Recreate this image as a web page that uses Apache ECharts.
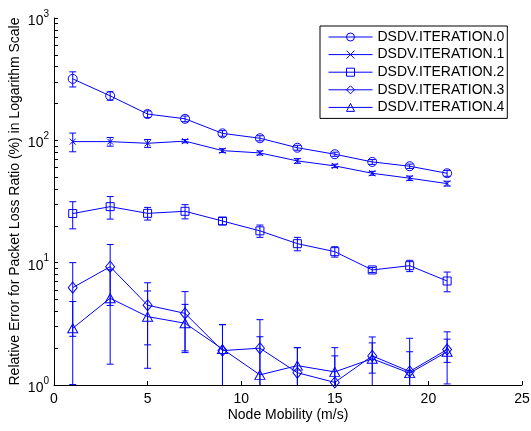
<!DOCTYPE html>
<html>
<head>
<meta charset="utf-8">
<script src="https://cdn.jsdelivr.net/npm/echarts@6/dist/echarts.min.js"></script>
<style>
  html, body { margin: 0; padding: 0; background: #fff; }
  #chart { width: 531px; height: 431px; }
</style>
</head>
<body>
<div id="chart"></div>
<script>
// node mobility (m/s)
const mobility = [1, 3, 5, 7, 9, 11, 13, 15, 17, 19, 21]

// relative error (%) and its error bar half-length, per iteration
const iter0 = [318, 231, 164, 150, 114, 104, 87, 77, 66.6, 61.4, 53.8]
const err0 = [45, 18, 10, 8, 6, 5, 4, 3, 3, 2.5, 3]
const iter1 = [97.6, 97.6, 94.6, 98.5, 82.4, 78.9, 67.9, 61.8, 53.8, 49, 44.3]
const err1 = [17, 8, 7, 3, 3, 3, 3, 2, 2, 2, 2]
const iter2 = [25.2, 28.7, 25.3, 26.3, 21.9, 18.2, 14.3, 12.3, 8.72, 9.45, 7.08]
const err2 = [6.3, 6, 3, 3.5, 1.5, 2.1, 1.8, 1.2, 0.4, 1, 1.3]
const iter3 = [6.25, 9.27, 4.49, 3.85, 1.91, 2.0, 1.26, 1.05, 1.73, 1.29, 1.95]
const err3 = [3.75, 4.8, 2.36, 1.95, 1.2, 1.42, 0.76, 0.97, 0.48, 1.12, 0.42]
const iter4 = [2.91, 5.12, 3.62, 3.2, 1.97, 1.21, 1.44, 1.28, 1.64, 1.25, 1.87]
const err4 = [1.9, 3.64, 2.25, 1.36, 1.15, 1.27, 0.58, 0.45, 0.83, 0.62, 0.85]

const names = ['DSDV.ITERATION.0', 'DSDV.ITERATION.1', 'DSDV.ITERATION.2', 'DSDV.ITERATION.3', 'DSDV.ITERATION.4']

// log axis ticks (1..9, 10..90, 100..1000)
const yTicks = [1, 2, 3, 4, 5, 6, 7, 8, 9, 10, 20, 30, 40, 50, 60, 70, 80, 90, 100, 200, 300, 400, 500, 600, 700, 800, 900, 1000]
const yLabels = [1, 10, 100, 1000]
const xTicks = [0, 5, 10, 15, 20, 25]

const blue = '#0000ff'
const font = 'Liberation Sans, Arial, sans-serif'

const values = [iter0, iter1, iter2, iter3, iter4]
const errors = [err0, err1, err2, err3, err4]
const symbols = ['circle', 'path://M0,0L10,10M10,0L0,10', 'rect', 'diamond', 'triangle']
const sizes = [9, 6, 8, [9, 11], [10, 9]]

function errorBar(params, api) {
  const x = api.value(0)
  const y = api.value(1)
  const e = api.value(2)
  const lo = Math.max(y - e, 0.01)
  const top = api.coord([x, y + e])
  const bot = api.coord([x, lo])
  const w = 3.5
  const style = { stroke: blue, lineWidth: 1 }
  return {
    type: 'group',
    children: [
      { type: 'line', shape: { x1: top[0], y1: top[1], x2: bot[0], y2: bot[1] }, style: style },
      { type: 'line', shape: { x1: top[0] - w, y1: top[1], x2: top[0] + w, y2: top[1] }, style: style },
      { type: 'line', shape: { x1: bot[0] - w, y1: bot[1], x2: bot[0] + w, y2: bot[1] }, style: style }
    ]
  }
}

const series = []
values.forEach((vals, k) => {
  series.push({
    name: names[k] + '_err',
    type: 'custom',
    clip: true,
    renderItem: errorBar,
    data: mobility.map((x, i) => [x, vals[i], errors[k][i]]),
    z: 2
  })
})
values.forEach((vals, k) => {
  series.push({
    name: names[k],
    type: 'line',
    data: mobility.map((x, i) => [x, vals[i]]),
    symbol: symbols[k],
    symbolSize: sizes[k],
    showSymbol: true,
    lineStyle: { color: blue, width: 1 },
    itemStyle: { color: 'rgba(0,0,0,0)', borderColor: blue, borderWidth: 1 },
    emphasis: { disabled: true },
    z: 3
  })
})

const chart = echarts.init(document.getElementById('chart'))
chart.setOption({
  animation: false,
  textStyle: { fontFamily: font },
  grid: { left: 54, right: 9, top: 18, bottom: 46, containLabel: false, outerBoundsMode: 'none' },
  legend: {
    data: names,
    orient: 'vertical',
    left: 320,
    top: 26,
    backgroundColor: '#fff',
    borderColor: '#000',
    borderWidth: 1,
    borderRadius: 0,
    padding: [4, 3, 4, 8],
    itemWidth: 44,
    itemHeight: 10,
    itemGap: 3.6,
    lineStyle: { width: 1 },
    itemStyle: { borderWidth: 1 },
    textStyle: { fontSize: 14, color: '#000', fontFamily: font, lineHeight: 14 }
  },
  xAxis: {
    type: 'value',
    min: 0,
    max: 25,
    interval: 5,
    name: 'Node Mobility (m/s)',
    nameLocation: 'middle',
    nameGap: 23,
    nameMoveOverlap: false,
    nameTextStyle: { fontSize: 14, color: '#000', fontFamily: font },
    axisLine: { show: true, lineStyle: { color: '#000', width: 1 } },
    axisTick: { show: true, inside: true, length: 4, customValues: xTicks, lineStyle: { color: '#000' } },
    axisLabel: { customValues: xTicks, fontSize: 14, color: '#000', margin: 7, fontFamily: font },
    splitLine: { show: false }
  },
  yAxis: {
    type: 'log',
    logBase: 10,
    min: 1,
    max: 1000,
    name: 'Relative Error for Packet Loss Ratio (%) in Logarithm Scale',
    nameLocation: 'middle',
    nameGap: 32,
    nameMoveOverlap: false,
    nameTextStyle: { fontSize: 14, color: '#000', fontFamily: font },
    axisLine: { show: true, lineStyle: { color: '#000', width: 1 } },
    axisTick: { show: true, inside: true, length: 4, customValues: yTicks, lineStyle: { color: '#000' } },
    axisLabel: {
      customValues: yLabels,
      margin: 5,
      formatter: function (v) {
        return '{b|10}{s|' + Math.round(Math.log10(v)) + '}'
      },
      rich: {
        b: { fontSize: 14, color: '#000', fontFamily: font, lineHeight: 18, verticalAlign: 'middle', padding: [6, 0, 0, 0] },
        s: { fontSize: 10, color: '#000', fontFamily: font, lineHeight: 10, verticalAlign: 'top' }
      }
    },
    splitLine: { show: false }
  },
  series: series
})
</script>
</body>
</html>
